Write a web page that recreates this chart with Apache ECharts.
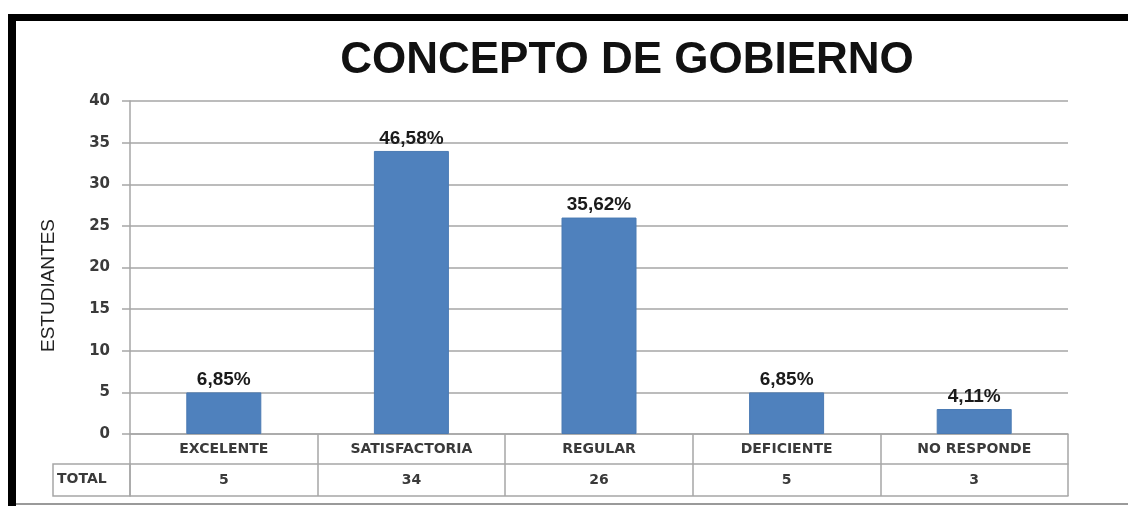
<!DOCTYPE html>
<html>
<head>
<meta charset="utf-8">
<script src="https://cdn.jsdelivr.net/npm/echarts@6/dist/echarts.min.js"></script>
<style>
html, body { margin: 0; padding: 0; background: #fff; }
#chart { width: 1128px; height: 506px; }
</style>
</head>
<body>
<div id="chart"></div>
<script>
var categories = ['EXCELENTE', 'SATISFACTORIA', 'REGULAR', 'DEFICIENTE', 'NO RESPONDE'];
var totals = [5, 34, 26, 5, 3];
var percents = ['6,85%', '46,58%', '35,62%', '6,85%', '4,11%'];

var lineColor = '#a6a6a6';
var tableFont = { fontFamily: 'DejaVu Sans', fontWeight: 'bold', fontSize: 14, color: '#3a3a3a' };

var myChart = echarts.init(document.getElementById('chart'));

var option = {
    animation: false,
    backgroundColor: '#fff',
    title: {
        text: 'CONCEPTO DE GOBIERNO',
        left: 622, top: 34, textAlign: 'center',
        textStyle: { fontFamily: 'Liberation Sans', fontWeight: 'bold', fontSize: 44, color: '#111' }
    },
    grid: { left: 130, right: 60, top: 101, bottom: 72 },
    yAxis: {
        type: 'value', min: 0, max: 40, interval: 5,
        name: 'ESTUDIANTES', nameLocation: 'middle', nameGap: 72, nameRotate: 90,
        nameTextStyle: { fontFamily: 'Liberation Sans', fontSize: 19, color: '#222', padding: [0, 36, 0, 0] },
        axisLine: { show: true, lineStyle: { color: lineColor, width: 1.5 } },
        axisTick: { show: true, length: 8, lineStyle: { color: lineColor, width: 1.5 } },
        axisLabel: { margin: 20, fontFamily: 'DejaVu Sans', fontWeight: 'bold', fontSize: 15, color: '#3a3a3a' },
        splitLine: { lineStyle: { color: lineColor, width: 1.5 } }
    },
    xAxis: [{
        type: 'category', data: categories, position: 'bottom',
        axisLine: { show: true, lineStyle: { color: lineColor, width: 1.5 } },
        axisTick: { show: true, length: 62, interval: 0, lineStyle: { color: lineColor, width: 1.5 } },
        axisLabel: Object.assign({ margin: 8, interval: 0 }, tableFont)
    }, {
        type: 'category', data: categories, position: 'bottom', offset: 30,
        axisLine: { show: true, lineStyle: { color: lineColor, width: 1.5 } },
        axisTick: { show: false },
        axisLabel: Object.assign({
            margin: 9, interval: 0,
            formatter: function (v, i) { return totals[i]; }
        }, tableFont)
    }, {
        type: 'category', data: categories, position: 'bottom', offset: 62,
        axisLine: { show: true, lineStyle: { color: lineColor, width: 1.5 } },
        axisTick: { show: false },
        axisLabel: { show: false }
    }],
    series: [{
        type: 'bar', xAxisIndex: 0, data: totals, barWidth: 75,
        itemStyle: { color: '#4f81bd', borderColor: '#4a7ab3', borderWidth: 1 },
        label: {
            show: true, position: 'top', distance: 3,
            formatter: function (p) { return percents[p.dataIndex]; },
            fontFamily: 'Liberation Sans', fontWeight: 'bold', fontSize: 19, color: '#1a1a1a'
        }
    }],
    graphic: [
        { type: 'rect', shape: { x: 8, y: 14, width: 1120, height: 7 }, style: { fill: '#000' } },
        { type: 'rect', shape: { x: 8, y: 14, width: 8, height: 492 }, style: { fill: '#000' } },
        { type: 'rect', shape: { x: 16, y: 503, width: 1112, height: 2 }, style: { fill: '#9a9a9a' } },
        { type: 'rect', shape: { x: 53, y: 464, width: 77, height: 32 }, style: { fill: 'none', stroke: lineColor, lineWidth: 1.5 } },
        { type: 'text', left: 57, top: 472, style: { text: 'TOTAL', font: 'bold 14px "DejaVu Sans"', fill: '#3a3a3a' } }
    ]
};

myChart.setOption(option);
</script>
</body>
</html>
